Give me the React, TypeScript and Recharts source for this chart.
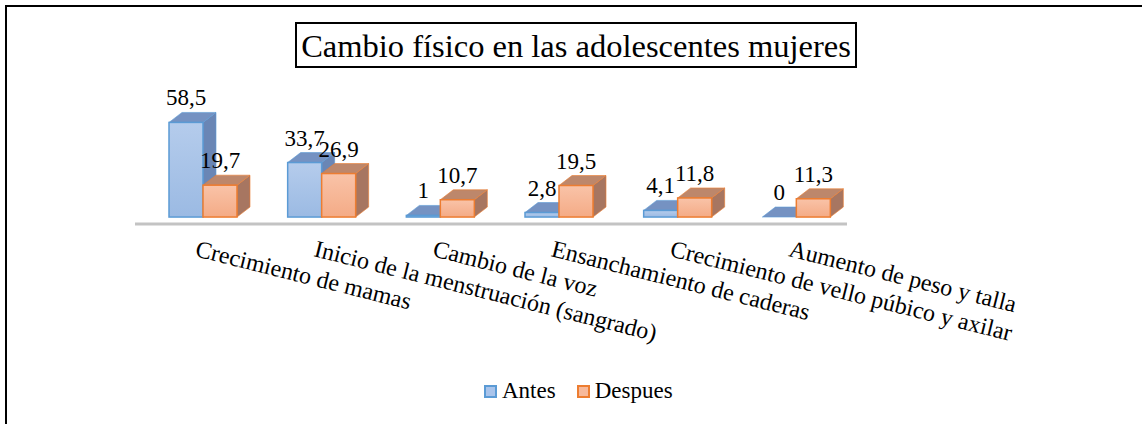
import React from 'react';
import { BarChart, Bar, XAxis, YAxis, Legend, LabelList } from 'recharts';

const categories = [
  'Crecimiento de mamas',
  'Inicio de la menstruación (sangrado)',
  'Cambio de la voz',
  'Ensanchamiento de caderas',
  'Crecimiento de vello púbico y axilar',
  'Aumento de peso y talla',
];
const antes = [58.5, 33.7, 1, 2.8, 4.1, 0];
const despues = [19.7, 26.9, 10.7, 19.5, 11.8, 11.3];
const seriesNames = ['Antes', 'Despues'];
const chartTitle = 'Cambio físico en las adolescentes mujeres';

const data = categories.map((name, i) => ({ name, antes: antes[i], despues: despues[i] }));

const FONT = '"Liberation Serif", "Times New Roman", serif';
const DX = 9;
const DEPTH = 13;
const DV = 10;

const BLUE = { stroke: '#5b9bd5', top: '#7592c2', side: '#6a86b5', grad: 'gBlue', legend: '#a9c4eb' };
const ORANGE = { stroke: '#ed7d31', top: '#bd876b', side: '#a77661', grad: 'gOrange', legend: '#f7b99b' };

const make3D = (c: any) => (props: any) => {
  const { x, y, width, height } = props;
  if (x == null || y == null) return null;
  const x0 = x + DX;
  const x1 = x0 + width;
  const yb = y + height;
  return (
    <g>
      <polygon
        points={`${x1},${y} ${x1 + DEPTH},${y - DV} ${x1 + DEPTH},${yb - DV} ${x1},${yb}`}
        fill={c.side}
        stroke={c.stroke}
        strokeWidth={1}
        strokeOpacity={0.6}
      />
      <polygon
        points={`${x0},${y} ${x0 + DEPTH},${y - DV} ${x1 + DEPTH},${y - DV} ${x1},${y}`}
        fill={c.top}
        stroke={c.stroke}
        strokeWidth={1}
        strokeOpacity={0.6}
      />
      <rect x={x0} y={y} width={width} height={Math.max(height, 0)} fill={`url(#${c.grad})`} stroke={c.stroke} strokeWidth={1.5} />
    </g>
  );
};

const ValueLabel = (props: any) => {
  const { x, y, width, value } = props;
  return (
    <text x={x + DX + width / 2} y={y - 17} textAnchor="middle" fontSize={23} fontFamily={FONT} fill="#000">
      {String(value).replace('.', ',')}
    </text>
  );
};

const CategoryTick = (props: any) => {
  const { x, y, payload } = props;
  const ty = y + 24;
  return (
    <text x={x} y={ty} transform={`rotate(14, ${x}, ${ty})`} fontSize={24} fontFamily={FONT} fill="#000" textAnchor="start">
      {payload.value}
    </text>
  );
};

const LegendContent = () => (
  <div style={{ display: 'flex', alignItems: 'center', fontFamily: FONT, fontSize: 23, height: 28, whiteSpace: 'nowrap' }}>
    {[BLUE, ORANGE].map((c, i) => (
      <div key={i} style={{ display: 'flex', alignItems: 'center', marginRight: 21 }}>
        <span style={{ width: 9, height: 9, background: c.legend, border: `2px solid ${c.stroke}`, display: 'inline-block', marginRight: 5 }} />
        <span>{seriesNames[i]}</span>
      </div>
    ))}
  </div>
);

export default function App() {
  return (
    <div style={{ position: 'absolute', left: 0, top: 0, width: 1142, height: 424, overflow: 'hidden', background: '#fff' }}>
      <div style={{ position: 'absolute', left: 5, top: 5, width: 1200, height: 500, border: '2px solid #000' }} />
      <div
        style={{
          position: 'absolute',
          left: 295,
          top: 22,
          width: 558,
          height: 42,
          border: '2px solid #000',
          fontFamily: FONT,
          fontSize: 32.5,
          lineHeight: '44px',
          textAlign: 'center',
          color: '#000',
          whiteSpace: 'nowrap',
        }}
      >
        {chartTitle}
      </div>
      <div style={{ position: 'absolute', left: 0, top: 0 }}>
        <BarChart
          width={1142}
          height={424}
          data={data}
          margin={{ top: 120, right: 295, left: 135, bottom: 142 }}
          barGap={0}
          barSize={34}
        >
          <defs>
            <linearGradient id="gBlue" x1="0" y1="0" x2="0" y2="1">
              <stop offset="0%" stopColor="#b5ccec" />
              <stop offset="100%" stopColor="#9bbae3" />
            </linearGradient>
            <linearGradient id="gOrange" x1="0" y1="0" x2="0" y2="1">
              <stop offset="0%" stopColor="#f9c3a8" />
              <stop offset="100%" stopColor="#f4ab86" />
            </linearGradient>
          </defs>
          <XAxis
            dataKey="name"
            height={30}
            axisLine={{ stroke: '#c3c3c3', strokeWidth: 3 }}
            tickLine={false}
            interval={0}
            tick={<CategoryTick />}
          />
          <YAxis hide type="number" domain={[-4.3, 60]} />
          <Legend
            content={<LegendContent />}
            wrapperStyle={{ left: 484, top: 377, bottom: 'auto', width: 240, height: 28 }}
          />
          <Bar dataKey="antes" name={seriesNames[0]} isAnimationActive={false} shape={make3D(BLUE)}>
            <LabelList dataKey="antes" content={<ValueLabel />} />
          </Bar>
          <Bar dataKey="despues" name={seriesNames[1]} isAnimationActive={false} shape={make3D(ORANGE)}>
            <LabelList dataKey="despues" content={<ValueLabel />} />
          </Bar>
        </BarChart>
      </div>
    </div>
  );
}
